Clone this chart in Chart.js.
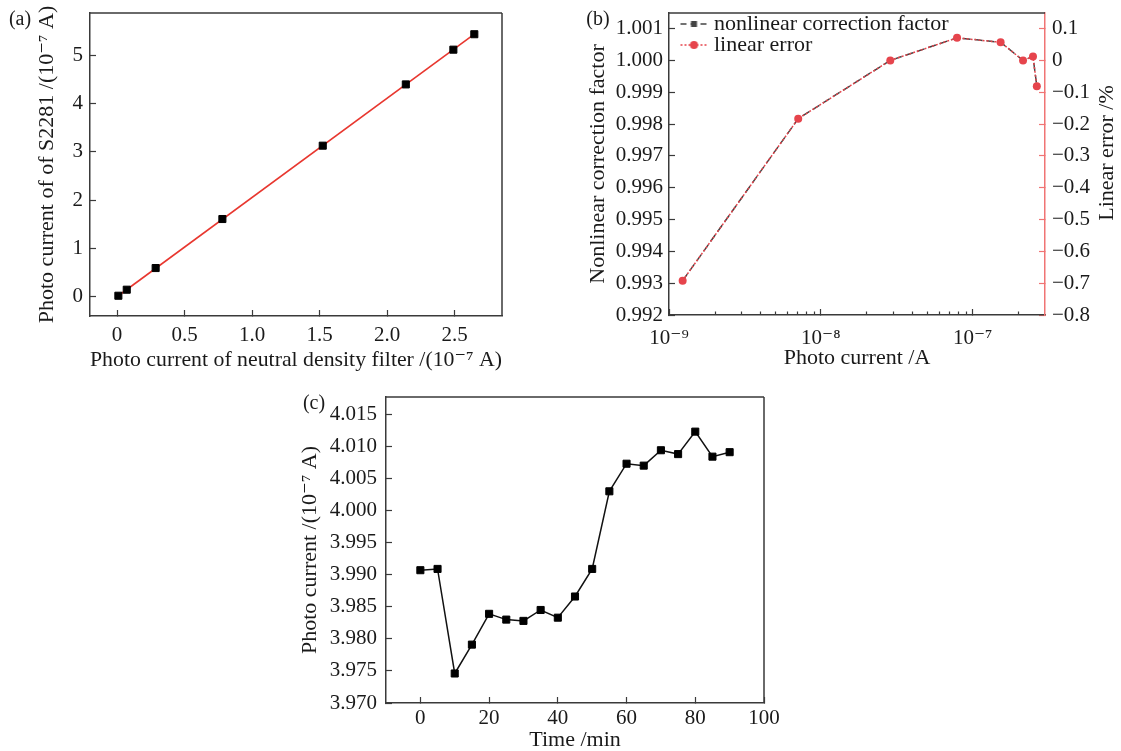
<!DOCTYPE html>
<html>
<head>
<meta charset="utf-8">
<script src="https://cdn.jsdelivr.net/npm/chart.js@4.4.1/dist/chart.umd.min.js"></script>
<style>
  html, body { margin: 0; padding: 0; background: #fff; }
  body { width: 1121px; height: 751px; position: relative; overflow: hidden; }
  .panel { position: absolute; }
</style>
</head>
<body>
<div class="panel" style="left:0;top:0;width:520px;height:380px"><canvas id="chartA"></canvas></div>
<div class="panel" style="left:570px;top:0;width:551px;height:380px"><canvas id="chartB"></canvas></div>
<div class="panel" style="left:290px;top:390px;width:500px;height:361px"><canvas id="chartC"></canvas></div>
<script>
// ── (a) S2281 vs neutral density filter ─────────────────────────
const ndFilterCurrent = [0.01, 0.072, 0.286, 0.78, 1.523, 2.138, 2.49, 2.645];
const s2281Current    = [0.02, 0.145, 0.594, 1.61, 3.13, 4.40, 5.12, 5.44];
const fitLineX = [0.01, 2.645];
const fitLineY = [0.02, 5.44];
const xTicksA = [0, 0.5, 1.0, 1.5, 2.0, 2.5];
const xTickLabelsA = ['0', '0.5', '1.0', '1.5', '2.0', '2.5'];
const yTicksA = [0, 1, 2, 3, 4, 5];
const yTickLabelsA = ['0', '1', '2', '3', '4', '5'];

// ── (b) correction factor / linear error ────────────────────────
const photoCurrentB    = [1.23e-9, 7.1e-9, 2.87e-8, 7.9e-8, 1.53e-7, 2.15e-7, 2.5e-7, 2.65e-7];
const correctionFactor = [0.99308, 0.99817, 1.00000, 1.00071, 1.00057, 1.00000, 1.00012, 0.99919];
const linearError      = [-0.692, -0.183, 0.000, 0.071, 0.057, 0.000, 0.012, -0.081];
const xTicksB = [1e-9, 1e-8, 1e-7];
const xTickLabelsB = ['10⁻⁹', '10⁻⁸', '10⁻⁷'];
const xMinorTicksB = [2e-9, 3e-9, 4e-9, 5e-9, 6e-9, 7e-9, 8e-9, 9e-9,
                      2e-8, 3e-8, 4e-8, 5e-8, 6e-8, 7e-8, 8e-8, 9e-8, 2e-7];
const yTicksB = [0.992, 0.993, 0.994, 0.995, 0.996, 0.997, 0.998, 0.999, 1.000, 1.001];
const yTickLabelsB = ['0.992', '0.993', '0.994', '0.995', '0.996', '0.997', '0.998', '0.999', '1.000', '1.001'];
const y2TicksB = [-0.8, -0.7, -0.6, -0.5, -0.4, -0.3, -0.2, -0.1, 0, 0.1];
const y2TickLabelsB = ['−0.8', '−0.7', '−0.6', '−0.5', '−0.4', '−0.3', '−0.2', '−0.1', '0', '0.1'];

// ── (c) stability over time ─────────────────────────────────────
const timeMin = [0, 5, 10, 15, 20, 25, 30, 35, 40, 45, 50, 55, 60, 65, 70, 75, 80, 85, 90];
const stabilityCurrent = [3.9907, 3.9909, 3.9746, 3.9791, 3.9839, 3.9830, 3.9828, 3.9845, 3.9833, 3.9866,
                          3.9909, 4.0030, 4.0073, 4.0070, 4.0094, 4.0088, 4.0123, 4.0084, 4.0091];
const xTicksC = [0, 20, 40, 60, 80, 100];
const xTickLabelsC = ['0', '20', '40', '60', '80', '100'];
const yTicksC = [3.970, 3.975, 3.980, 3.985, 3.990, 3.995, 4.000, 4.005, 4.010, 4.015];
const yTickLabelsC = ['3.970', '3.975', '3.980', '3.985', '3.990', '3.995', '4.000', '4.005', '4.010', '4.015'];

// ── shared style ────────────────────────────────────────────────
const FAMILY = '"Liberation Serif", "DejaVu Serif", serif';
const FONT = { family: FAMILY, size: 21 };        // tick labels
const TITLE_FONT = { family: FAMILY, size: 22 };  // axis titles, legend
const textColor = '#1a1a1a';
const axisColor = '#3a3a3a';
const redA = '#e8372f';
const redB = '#e6444c';
const redAxis = '#f07474';

Chart.defaults.font = FONT;
Chart.defaults.color = textColor;

// fixed axis thickness so the plot areas land where the figure has them
function fixSize(size) {
  return scale => {
    if (scale.isHorizontal()) scale.height = size; else scale.width = size;
    scale.paddingTop = scale.paddingBottom = scale.paddingLeft = scale.paddingRight = 0;
  };
}

function axis(opts) {
  const { ticks, labels, color = axisColor, pad, size, title } = opts;
  return {
    afterBuildTicks: s => { s.ticks = ticks.map(v => ({ value: v })); },
    afterFit: fixSize(size),
    grid: { drawOnChartArea: false, tickLength: -6, tickColor: color, tickWidth: 1.2 },
    border: { color: color, width: 1.5 },
    ticks: { padding: pad, color: textColor, font: FONT, autoSkip: false, maxRotation: 0,
             callback: (v, i) => labels[i] },
    title: title ? Object.assign({ display: true, color: textColor, font: TITLE_FONT }, title) : { display: false }
  };
}

// frame lines, extra text and minor log ticks
const decorPlugin = {
  id: 'decor',
  afterDraw(chart, args, opts) {
    const { ctx, chartArea: ca } = chart;
    ctx.save();
    ctx.strokeStyle = axisColor;
    ctx.lineWidth = 1.5;
    ctx.beginPath();
    (opts.frame || []).forEach(side => {
      if (side === 'top') { ctx.moveTo(ca.left, ca.top); ctx.lineTo(ca.right, ca.top); }
      if (side === 'right') { ctx.moveTo(ca.right, ca.top); ctx.lineTo(ca.right, ca.bottom); }
    });
    ctx.stroke();

    if (opts.minorTicks) {
      const sc = chart.scales.x;
      ctx.lineWidth = 1.2;
      ctx.beginPath();
      opts.minorTicks.forEach(v => {
        const px = Math.round(sc.getPixelForValue(v)) + 0.5;
        ctx.moveTo(px, ca.bottom);
        ctx.lineTo(px, ca.bottom - 3.5);
      });
      ctx.stroke();
    }

    ctx.fillStyle = textColor;
    ctx.textAlign = 'center';
    ctx.textBaseline = 'middle';
    (opts.texts || []).forEach(t => {
      ctx.save();
      ctx.font = `${t.size || 20}px ${FAMILY}`;
      ctx.translate(t.x, t.y);
      ctx.rotate(t.rot || 0);
      ctx.fillText(t.text, 0, 0);
      ctx.restore();
    });
    ctx.restore();
  }
};

const baseOpts = { responsive: true, maintainAspectRatio: false, animation: false, devicePixelRatio: 1 };

// ── Chart (a) ───────────────────────────────────────────────────
new Chart(document.getElementById('chartA'), {
  type: 'scatter',
  data: {
    datasets: [{
      data: ndFilterCurrent.map((x, i) => ({ x, y: s2281Current[i] })),
      pointStyle: 'rect', pointRadius: 5, backgroundColor: '#000', borderColor: '#000', pointBorderWidth: 1,
      showLine: false
    }, {
      data: fitLineX.map((x, i) => ({ x, y: fitLineY[i] })),
      showLine: true, borderColor: redA, borderWidth: 1.6, pointRadius: 0
    }]
  },
  options: Object.assign({}, baseOpts, {
    layout: { padding: { top: 13, right: 18, left: 0, bottom: 0 } },
    plugins: {
      legend: { display: false }, tooltip: { enabled: false },
      decor: { frame: ['top', 'right'], texts: [{ text: '(a)', x: 20, y: 20 }] }
    },
    scales: {
      x: Object.assign({ type: 'linear', min: -0.2, max: 2.85 },
        axis({ ticks: xTicksA, labels: xTickLabelsA, pad: 13, size: 64,
               title: { text: 'Photo current of neutral density filter /(10⁻⁷ A)', padding: { top: 0, bottom: 7 } } })),
      y: Object.assign({ type: 'linear', min: -0.4, max: 5.88 },
        axis({ ticks: yTicksA, labels: yTickLabelsA, pad: 13, size: 90,
               title: { text: 'Photo current of of S2281 /(10⁻⁷ A)', padding: { top: 34, bottom: 0 } } }))
    }
  }),
  plugins: [decorPlugin]
});

// ── Chart (b) ───────────────────────────────────────────────────
function legendIcon(color, dash, marker) {
  const c = document.createElement('canvas');
  c.width = 44; c.height = 12;
  const g = c.getContext('2d');
  g.strokeStyle = color; g.lineWidth = 1.5; g.setLineDash(dash);
  g.beginPath(); g.moveTo(17, 6); g.lineTo(44, 6); g.stroke();
  g.fillStyle = color;
  if (marker === 'rect') g.fillRect(27.5, 3, 6, 6);
  else { g.beginPath(); g.arc(30.5, 6, 4, 0, 2 * Math.PI); g.fill(); }
  return c;
}
const iconFactor = legendIcon('#444', [6, 4], 'rect');
const iconError = legendIcon(redB, [2, 2], 'circle');

new Chart(document.getElementById('chartB'), {
  type: 'line',
  data: {
    datasets: [{
      label: 'linear error',
      data: photoCurrentB.map((x, i) => ({ x, y: linearError[i] })),
      yAxisID: 'y2', order: 0,
      borderColor: redB, borderWidth: 1.5, borderDash: [2, 2],
      pointStyle: 'circle', pointRadius: 4, backgroundColor: redB, pointBorderWidth: 0
    }, {
      label: 'nonlinear correction factor',
      data: photoCurrentB.map((x, i) => ({ x, y: correctionFactor[i] })),
      yAxisID: 'y', order: 1,
      borderColor: '#444', borderWidth: 1.5, borderDash: [8, 4],
      pointStyle: 'rect', pointRadius: 3, backgroundColor: '#444', pointBorderWidth: 0
    }]
  },
  options: Object.assign({}, baseOpts, {
    layout: { padding: { top: 13, right: 0, left: 0, bottom: 0 } },
    plugins: {
      tooltip: { enabled: false },
      legend: {
        position: 'chartArea', align: 'start',
        // empty title only pushes the rows down inside the plot
        title: { display: true, text: ' ', color: 'rgba(0,0,0,0)', font: { size: 1, lineHeight: 1 },
                 padding: { top: 13, bottom: 0 } },
        labels: {
          usePointStyle: true, pointStyleWidth: 35, padding: -1, font: TITLE_FONT, color: textColor,
          generateLabels: () => [
            { text: 'nonlinear correction factor', pointStyle: iconFactor, fontColor: textColor,
              fillStyle: 'transparent', strokeStyle: 'transparent', lineWidth: 0, hidden: false, datasetIndex: 1 },
            { text: 'linear error', pointStyle: iconError, fontColor: textColor,
              fillStyle: 'transparent', strokeStyle: 'transparent', lineWidth: 0, hidden: false, datasetIndex: 0 }
          ]
        }
      },
      decor: {
        frame: ['top'], minorTicks: xMinorTicksB,
        texts: [{ text: '(b)', x: 28, y: 20 },
                { text: 'Linear error /%', x: 537, y: 153, rot: -Math.PI / 2, size: 22 }]
      }
    },
    scales: {
      x: Object.assign({ type: 'logarithmic', min: 1e-9, max: 3e-7 },
        axis({ ticks: xTicksB, labels: xTickLabelsB, pad: 17, size: 65,
               title: { text: 'Photo current /A', padding: { top: 0, bottom: 9 } } })),
      y: Object.assign({ type: 'linear', position: 'left', min: 0.992, max: 1.00149 },
        axis({ ticks: yTicksB, labels: yTickLabelsB, pad: 12, size: 99,
               title: { text: 'Nonlinear correction factor', padding: { top: 15, bottom: 0 } } })),
      y2: Object.assign({ type: 'linear', position: 'right', min: -0.8, max: 0.149 },
        axis({ ticks: y2TicksB, labels: y2TickLabelsB, pad: 13, size: 76, color: redAxis }))
    }
  }),
  plugins: [decorPlugin]
});

// ── Chart (c) ───────────────────────────────────────────────────
new Chart(document.getElementById('chartC'), {
  type: 'line',
  data: {
    datasets: [{
      data: timeMin.map((x, i) => ({ x, y: stabilityCurrent[i] })),
      borderColor: '#111', borderWidth: 1.5,
      pointStyle: 'rect', pointRadius: 5, backgroundColor: '#000', pointBorderColor: '#000', pointBorderWidth: 1
    }]
  },
  options: Object.assign({}, baseOpts, {
    layout: { padding: { top: 7, right: 26, left: 0, bottom: 0 } },
    plugins: {
      legend: { display: false }, tooltip: { enabled: false },
      decor: { frame: ['top', 'right'], texts: [{ text: '(c)', x: 24, y: 14 }] }
    },
    scales: {
      x: Object.assign({ type: 'linear', min: -10, max: 100 },
        axis({ ticks: xTicksC, labels: xTickLabelsC, pad: 9, size: 48,
               title: { text: 'Time /min', padding: { top: 0, bottom: -2 } } })),
      y: Object.assign({ type: 'linear', min: 3.970, max: 4.0177 },
        axis({ ticks: yTicksC, labels: yTickLabelsC, pad: 15, size: 96,
               title: { text: 'Photo current /(10⁻⁷ A)', padding: { top: 7, bottom: 0 } } }))
    }
  }),
  plugins: [decorPlugin]
});
</script>
</body>
</html>
